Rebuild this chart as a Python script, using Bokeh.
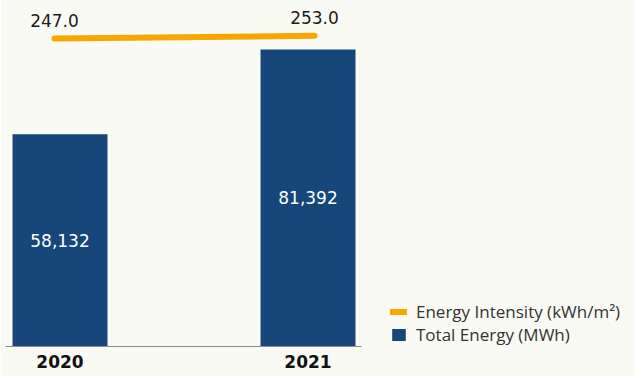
from bokeh.plotting import figure
from bokeh.models import ColumnDataSource, Range1d, FixedTicker, Legend, LegendItem
from bokeh.core.properties import value
from bokeh.embed import file_html
from bokeh.resources import INLINE

# ---- data ----
years = ["2020", "2021"]
total_energy = [58132, 81392]          # MWh
energy_intensity = [247.0, 253.0]      # kWh/m2

BG = "#FAFAF4"
NAVY = "#16467A"
ORANGE = "#F7A800"
NUMFONT = "DejaVu Sans"
FONT = "Open Sans"

idx = list(range(len(years)))
bar_src = ColumnDataSource(dict(
    x=idx,
    top=total_energy,
    mid=[v / 2 for v in total_energy],
    label=[f"{v:,}" for v in total_energy],
))
line_src = ColumnDataSource(dict(
    x=idx,
    y=energy_intensity,
    label=[f"{v:.1f}" for v in energy_intensity],
))

# frame spans x 5..634; bars scale 248 px / category
x0, x1 = -0.2198, 1.2157
p = figure(
    width=634, height=376,
    x_range=Range1d(x0, x0 + 629 / 248),
    y_range=Range1d(0, 94800),
    y_axis_location=None,
    toolbar_location=None,
    output_backend="svg",
    min_border_left=5, min_border_right=0,
    min_border_top=0, min_border_bottom=30,
    background_fill_color=BG, border_fill_color=BG,
    outline_line_color=None,
)
p.extra_x_ranges = {"lx": Range1d(-0.1885, -0.1885 + 629 / 260)}
p.extra_y_ranges = {"intensity": Range1d(-437.3, 331.5)}
p.xgrid.visible = False
p.ygrid.visible = False

bars = p.vbar(x="x", top="top", width=0.383, source=bar_src,
              fill_color=NAVY, line_color=None)
p.text(x="x", y="mid", text="label", source=bar_src,
       text_color="white", text_font=value(NUMFONT), text_font_size="17px",
       text_align="center", text_baseline="middle")

line = p.line(x="x", y="y", source=line_src, x_range_name="lx",
              y_range_name="intensity", line_color=ORANGE, line_width=6,
              line_cap="round")
p.text(x="x", y="y", text="label", source=line_src, x_range_name="lx",
       y_range_name="intensity", text_color="#1a1a1a",
       text_font=value(NUMFONT), text_font_size="17px",
       text_align="center", text_baseline="middle", y_offset=-18.5)

ax = p.xaxis[0]
ax.bounds = (x0, x1)
ax.ticker = FixedTicker(ticks=idx)
ax.major_label_overrides = {i: y for i, y in zip(idx, years)}
ax.major_tick_line_color = None
ax.major_tick_out = 0
ax.major_tick_in = 0
ax.minor_tick_line_color = None
ax.major_label_standoff = 8
ax.major_label_text_font = NUMFONT
ax.major_label_text_font_size = "17px"
ax.major_label_text_font_style = "bold"
ax.major_label_text_color = "#111111"
ax.axis_line_color = "#8a8a8a"
ax.axis_line_width = 1

legend = Legend(items=[
    LegendItem(label="Energy Intensity (kWh/m\u00b2)", renderers=[line]),
    LegendItem(label="Total Energy (MWh)", renderers=[bars]),
], location=(385, 0))
legend.margin = 0
legend.padding = 0
legend.spacing = 0
legend.glyph_width = 17
legend.glyph_height = 15
legend.label_height = 20
legend.label_standoff = 9
legend.label_text_font = FONT
legend.label_text_font_size = "17px"
legend.label_text_color = "#333333"
legend.background_fill_alpha = 0
legend.border_line_color = None
p.add_layout(legend)

open("out.html", "w").write(file_html(p, INLINE))
